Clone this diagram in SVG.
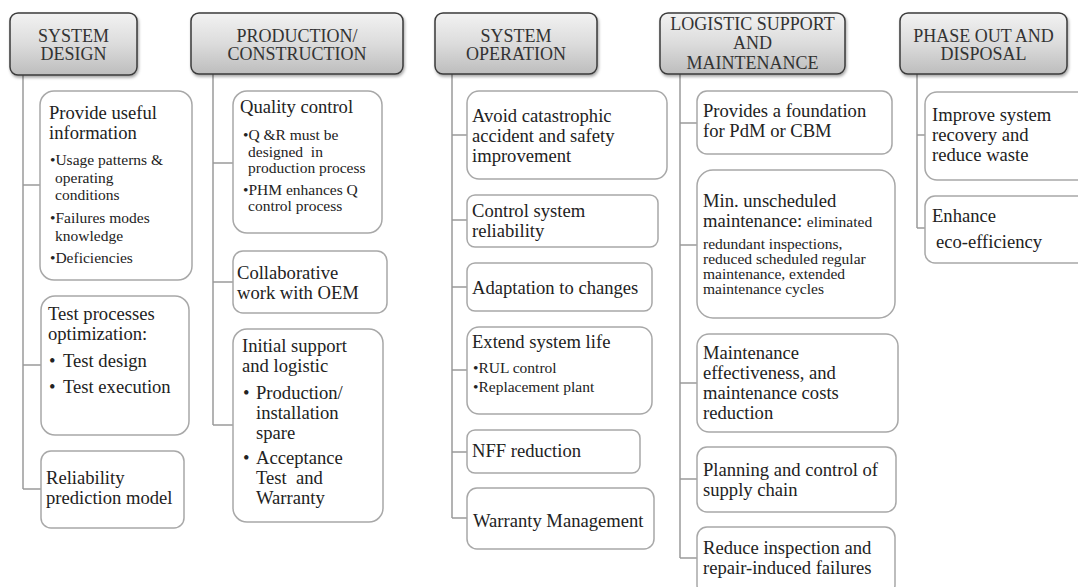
<svg xmlns="http://www.w3.org/2000/svg" width="1078" height="587" viewBox="0 0 1078 587">
<defs>
<linearGradient id="hg" x1="0" y1="0" x2="0" y2="1">
<stop offset="0" stop-color="#f2f2f2"/>
<stop offset="0.5" stop-color="#dcdcdc"/>
<stop offset="1" stop-color="#bdbdbd"/>
</linearGradient>
<filter id="sh" x="-10%" y="-10%" width="125%" height="135%">
<feDropShadow dx="1" dy="2" stdDeviation="1.5" flood-color="#000" flood-opacity="0.35"/>
</filter>
<style>
.hd rect{fill:url(#hg);stroke:#3a3a3a;stroke-width:1.5;filter:url(#sh)}
.hd text{font-family:"Liberation Serif","Times New Roman",serif;font-size:18px;fill:#333;text-anchor:middle}
.bx rect{fill:#fff;stroke:#a8a8a8;stroke-width:1.5}
.bx text{font-family:"Liberation Serif","Times New Roman",serif;font-size:18.6px;fill:#222}
.bx text.s,.bx tspan.s{font-size:15.5px}
.cn path{fill:none;stroke:#9a9a9a;stroke-width:1.5}
</style>
</defs>
<rect width="1078" height="587" fill="#fff"/>

<g class="cn" id="connectors">
<path d="M23,75V489M23,185H40M23,365H41M23,489H41"/>
<path d="M213,74V425M213,163H233M213,282H233M213,425H233"/>
<path d="M452,74V518M452,135H467M452,220H467M452,287H467M452,370H467M452,452H467M452,518H467"/>
<path d="M680,74V558M680,123H697M680,245H697M680,383H697M680,479H697M680,558H697"/>
<path d="M917,74V228M917,135H925M917,228H925"/>
</g>

<g class="hd" id="h1"><rect x="10" y="13" width="127" height="62" rx="8"/><text x="73.5" y="42">SYSTEM</text><text x="73.5" y="60">DESIGN</text></g>
<g class="hd" id="h2"><rect x="191" y="13" width="212" height="61" rx="8"/><text x="297" y="42">PRODUCTION/</text><text x="297" y="60">CONSTRUCTION</text></g>
<g class="hd" id="h3"><rect x="435" y="13" width="162" height="61" rx="8"/><text x="516" y="42">SYSTEM</text><text x="516" y="60">OPERATION</text></g>
<g class="hd" id="h4"><rect x="660" y="13" width="185" height="61" rx="8"/><text x="752.5" y="30">LOGISTIC SUPPORT</text><text x="752.5" y="49">AND</text><text x="752.5" y="69">MAINTENANCE</text></g>
<g class="hd" id="h5"><rect x="900" y="13" width="167" height="61" rx="8"/><text x="983.5" y="42">PHASE OUT AND</text><text x="983.5" y="60">DISPOSAL</text></g>

<g class="bx" id="n1a"><rect x="40" y="91" width="152" height="189" rx="14"/>
<text x="49" y="119">Provide useful</text><text x="49" y="139">information</text>
<text class="s" x="50" y="165">•Usage patterns &amp;</text><text class="s" x="55" y="183">operating</text><text class="s" x="55" y="200">conditions</text>
<text class="s" x="50" y="223">•Failures modes</text><text class="s" x="55" y="241">knowledge</text><text class="s" x="50" y="263">•Deficiencies</text></g>
<g class="bx" id="n1b"><rect x="41" y="296" width="148" height="139" rx="14"/>
<text x="48" y="320">Test processes</text><text x="48" y="340">optimization:</text>
<text x="49" y="367">•</text><text x="63" y="367">Test design</text><text x="49" y="393">•</text><text x="63" y="393">Test execution</text></g>
<g class="bx" id="n1c"><rect x="41" y="451" width="143" height="77" rx="10"/>
<text x="46" y="484">Reliability</text><text x="46" y="504">prediction model</text></g>

<g class="bx" id="n2a"><rect x="233" y="91" width="149" height="142" rx="14"/>
<text x="240" y="113">Quality control</text>
<text class="s" x="243" y="140">•Q &amp;R must be</text><text class="s" x="248" y="157">designed&#160; in</text><text class="s" x="248" y="173">production process</text>
<text class="s" x="243" y="195">•PHM enhances Q</text><text class="s" x="248" y="211">control process</text></g>
<g class="bx" id="n2b"><rect x="233" y="251" width="154" height="62" rx="10"/>
<text x="237" y="279">Collaborative</text><text x="237" y="299">work with OEM</text></g>
<g class="bx" id="n2c"><rect x="233" y="329" width="150" height="193" rx="14"/>
<text x="242" y="352">Initial support</text><text x="242" y="372">and logistic</text>
<text x="243" y="399">•</text><text x="256" y="399">Production/</text><text x="256" y="419">installation</text><text x="256" y="439">spare</text>
<text x="243" y="464">•</text><text x="256" y="464">Acceptance</text><text x="256" y="484">Test&#160; and</text><text x="256" y="504">Warranty</text></g>

<g class="bx" id="n3a"><rect x="467" y="91" width="200" height="88" rx="12"/>
<text x="472" y="122">Avoid catastrophic</text><text x="472" y="142">accident and safety</text><text x="472" y="162">improvement</text></g>
<g class="bx" id="n3b"><rect x="467" y="195" width="191" height="52" rx="8"/>
<text x="472" y="217">Control system</text><text x="472" y="237">reliability</text></g>
<g class="bx" id="n3c"><rect x="467" y="263" width="185" height="48" rx="8"/>
<text x="472" y="294">Adaptation to changes</text></g>
<g class="bx" id="n3d"><rect x="467" y="327" width="185" height="87" rx="12"/>
<text x="472" y="348">Extend system life</text><text class="s" x="473" y="373">•RUL control</text><text class="s" x="473" y="392">•Replacement plant</text></g>
<g class="bx" id="n3e"><rect x="467" y="430" width="173" height="43" rx="8"/>
<text x="472" y="457">NFF reduction</text></g>
<g class="bx" id="n3f"><rect x="467" y="488" width="187" height="61" rx="10"/>
<text x="473" y="527">Warranty Management</text></g>

<g class="bx" id="n4a"><rect x="697" y="91" width="195" height="63" rx="10"/>
<text x="703" y="117">Provides a foundation</text><text x="703" y="137">for PdM or CBM</text></g>
<g class="bx" id="n4b"><rect x="697" y="170" width="198" height="148" rx="16"/>
<text x="703" y="207">Min. unscheduled</text><text x="703" y="227">maintenance: <tspan class="s">eliminated</tspan></text>
<text class="s" x="703" y="249">redundant inspections,</text><text class="s" x="703" y="264">reduced scheduled regular</text><text class="s" x="703" y="279">maintenance, extended</text><text class="s" x="703" y="294">maintenance cycles</text></g>
<g class="bx" id="n4c"><rect x="697" y="334" width="201" height="98" rx="12"/>
<text x="703" y="359">Maintenance</text><text x="703" y="379">effectiveness, and</text><text x="703" y="399">maintenance costs</text><text x="703" y="419">reduction</text></g>
<g class="bx" id="n4d"><rect x="697" y="447" width="199" height="65" rx="10"/>
<text x="703" y="476">Planning and control of</text><text x="703" y="496">supply chain</text></g>
<g class="bx" id="n4e"><rect x="697" y="527" width="198" height="68" rx="10"/>
<text x="703" y="554">Reduce inspection and</text><text x="703" y="574">repair-induced failures</text></g>

<g class="bx" id="n5a"><rect x="925" y="92" width="170" height="88" rx="12"/>
<text x="932" y="121">Improve system</text><text x="932" y="141">recovery and</text><text x="932" y="161">reduce waste</text></g>
<g class="bx" id="n5b"><rect x="925" y="196" width="170" height="67" rx="10"/>
<text x="932" y="222">Enhance</text><text x="936" y="248">eco-efficiency</text></g>
</svg>
